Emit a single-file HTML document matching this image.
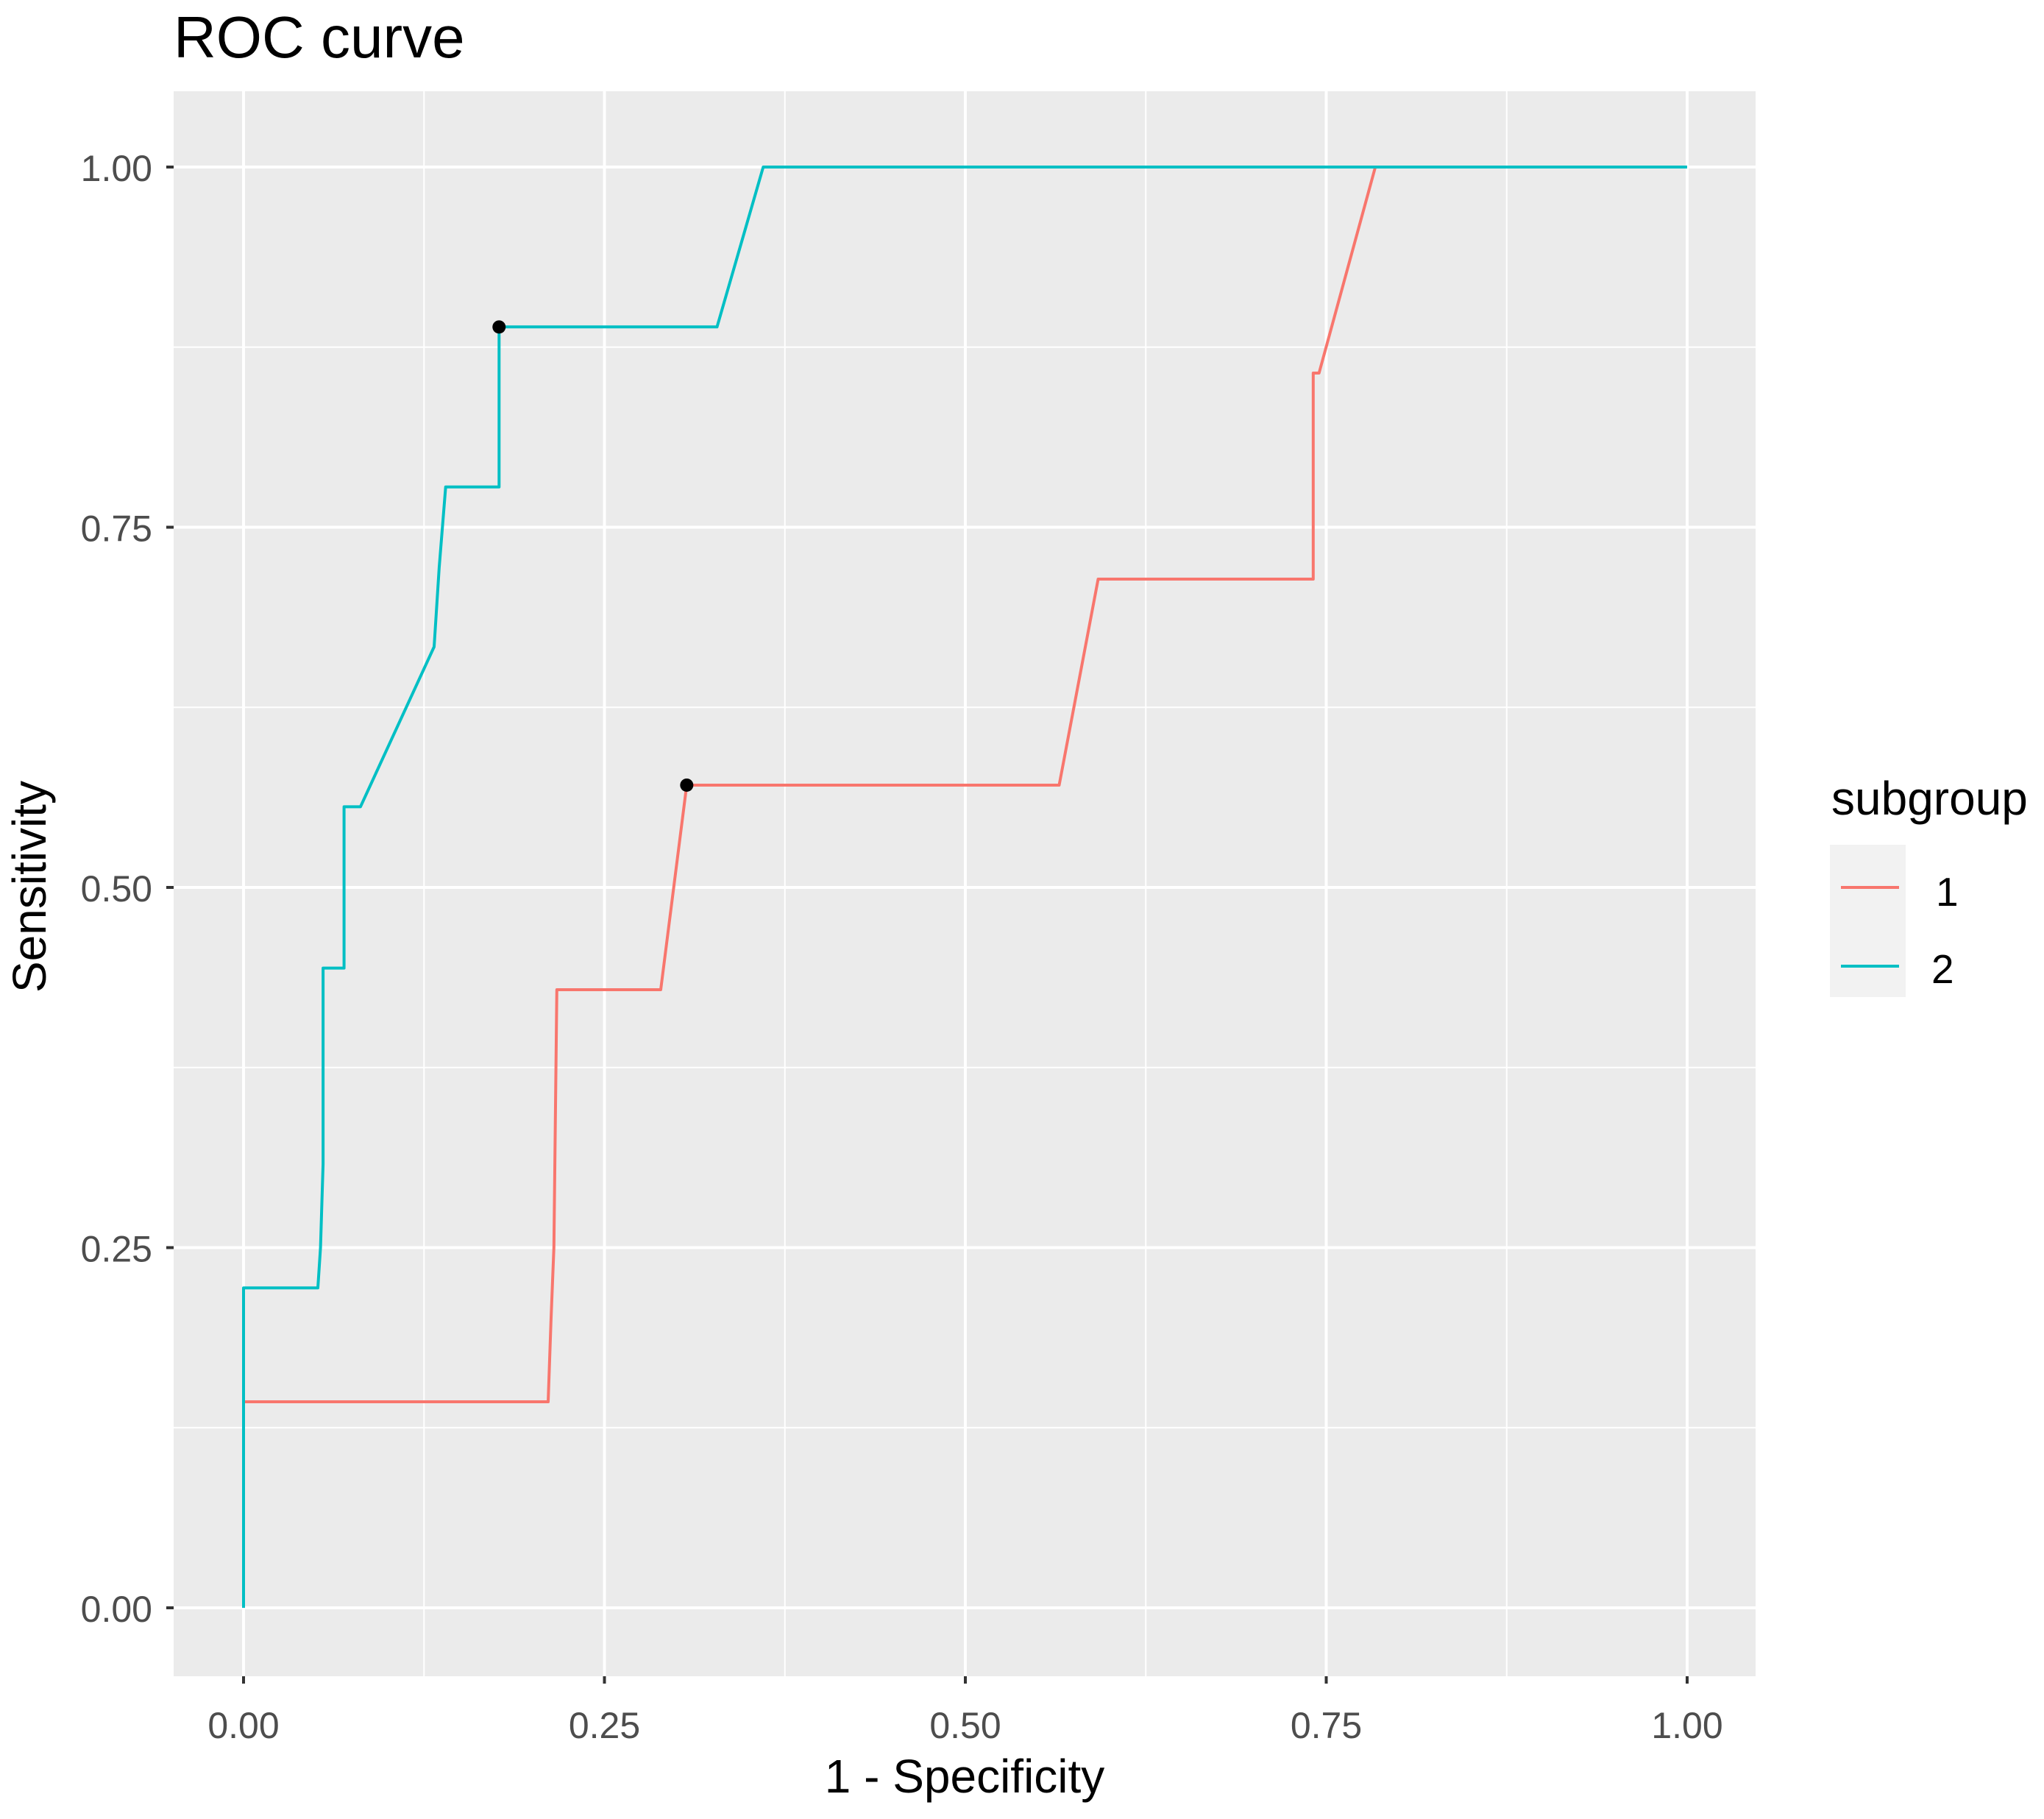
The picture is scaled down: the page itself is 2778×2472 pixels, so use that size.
<!DOCTYPE html>
<html><head><meta charset="utf-8"><style>
html,body{margin:0;padding:0;background:#fff;}
svg{display:block;font-family:"Liberation Sans",Arial,sans-serif;}
</style></head><body>
<svg id="chart" width="2778" height="2472" viewBox="0 0 2778 2472" xmlns="http://www.w3.org/2000/svg">
<rect width="2778" height="2472" fill="#fff"/>
<text x="236" y="78" font-size="80" fill="#000">ROC curve</text>
<rect x="236" y="124" width="2150" height="2154" fill="#ebebeb"/>
<g id="grid"></g>
<g id="series"></g>
<g id="axes"></g>
<text x="1311" y="2436" font-size="64" text-anchor="middle" fill="#000">1 - Specificity</text>
<text transform="translate(62,1205) rotate(-90)" font-size="64" text-anchor="middle" fill="#000">Sensitivity</text>
<g>
<text x="2489" y="1107" font-size="64" fill="#000">subgroup</text>
<rect x="2487" y="1148" width="103" height="207" fill="#f2f2f2"/>
<line x1="2502" x2="2581" y1="1206" y2="1206" stroke="#F8766D" stroke-width="4"/>
<line x1="2502" x2="2581" y1="1313" y2="1313" stroke="#00BFC4" stroke-width="4"/>
<text x="2631" y="1231" font-size="55" fill="#000">1</text>
<text x="2625" y="1336" font-size="55" fill="#000">2</text>
</g>
</svg>
<script>
const xTicks = [0, 0.25, 0.5, 0.75, 1];
const yTicks = [0, 0.25, 0.5, 0.75, 1];
const tickLabels = ["0.00", "0.25", "0.50", "0.75", "1.00"];
const minorTicks = [0.125, 0.375, 0.625, 0.875];
const fpr1 = [0, 0, 0.211, 0.213, 0.215, 0.217, 0.289, 0.307, 0.565, 0.592, 0.741, 0.741, 0.745, 0.784, 1];
const tpr1 = [0, 0.143, 0.143, 0.2, 0.25, 0.429, 0.429, 0.571, 0.571, 0.714, 0.714, 0.857, 0.857, 1, 1];
const fpr2 = [0, 0, 0.0515, 0.0533, 0.0551, 0.0551, 0.0696, 0.0696, 0.081, 0.132, 0.1355, 0.14, 0.177, 0.177, 0.328, 0.36, 1];
const tpr2 = [0, 0.222, 0.222, 0.25, 0.308, 0.444, 0.444, 0.556, 0.556, 0.667, 0.722, 0.778, 0.778, 0.889, 0.889, 1, 1];
const cutFpr = [0.307, 0.177];
const cutTpr = [0.571, 0.889];

const NS = "http://www.w3.org/2000/svg";
const X0 = 331, X1 = 2293, Y0 = 2185, Y1 = 227;
const PL = 236, PR = 2386, PT = 124, PB = 2278;
function sx(v){ return X0 + v * (X1 - X0); }
function sy(v){ return Y0 - v * (Y0 - Y1); }
function mk(tag, attrs, parent){
  const e = document.createElementNS(NS, tag);
  for (const k in attrs) e.setAttribute(k, attrs[k]);
  parent.appendChild(e);
  return e;
}
const grid = document.getElementById('grid');
const axes = document.getElementById('axes');
const series = document.getElementById('series');
minorTicks.forEach(v => {
  const a = mk('line', {x1: sx(v), x2: sx(v), y1: PT, y2: PB, stroke: '#fff', 'stroke-width': 2}, grid);
  
  
  const b = mk('line', {x1: PL, x2: PR, y1: sy(v), y2: sy(v), stroke: '#fff', 'stroke-width': 2}, grid);
  
  
});
xTicks.forEach((v, i) => {
  const g = mk('line', {x1: sx(v), x2: sx(v), y1: PT, y2: PB, stroke: '#fff', 'stroke-width': 4}, grid);
  
  
  const t = mk('line', {x1: sx(v), x2: sx(v), y1: PB, y2: PB + 10, stroke: '#333', 'stroke-width': 4}, axes);
  
  
  const l = mk('text', {x: sx(v), y: 2362, 'font-size': 50, 'text-anchor': 'middle', fill: '#4d4d4d'}, axes);
  
  
  l.textContent = tickLabels[i];
});
yTicks.forEach((v, i) => {
  const g = mk('line', {x1: PL, x2: PR, y1: sy(v), y2: sy(v), stroke: '#fff', 'stroke-width': 4}, grid);
  
  
  const t = mk('line', {x1: PL - 10, x2: PL, y1: sy(v), y2: sy(v), stroke: '#333', 'stroke-width': 4}, axes);
  
  
  const l = mk('text', {x: 207, y: sy(v) + 19, 'font-size': 50, 'text-anchor': 'end', fill: '#4d4d4d'}, axes);
  
  
  l.textContent = tickLabels[i];
});
function drawLine(fx, ty, color, name){
  const d = fx.map((v, i) => (i ? 'L' : 'M') + sx(v).toFixed(1) + ',' + sy(ty[i]).toFixed(1)).join(' ');
  const p = mk('path', {d: d, fill: 'none', stroke: color, 'stroke-width': 4, 'stroke-linejoin': 'round'}, series);
  
  
}
drawLine(fpr1, tpr1, '#F8766D', 'roc-line-subgroup-1');
drawLine(fpr2, tpr2, '#00BFC4', 'roc-line-subgroup-2');
cutFpr.forEach((v, i) => {
  const c = mk('circle', {cx: sx(v), cy: sy(cutTpr[i]), r: 9, fill: '#000'}, series);
  
  
});
</script>
</body></html>
